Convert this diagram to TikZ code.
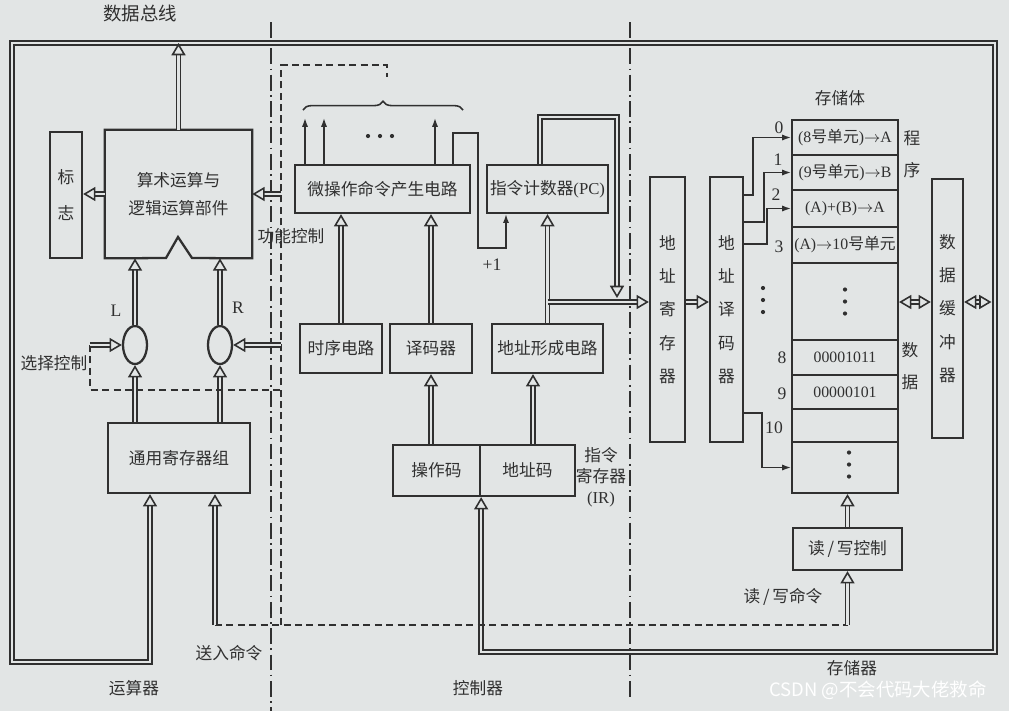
\documentclass[tikz,border=0pt]{standalone}
\usepackage{fontspec}
\setmainfont{Liberation Serif}
\newfontfamily\cjk{Noto Sans CJK SC}
\usepackage{tikz}
\usetikzlibrary{arrows.meta,shapes.geometric,decorations.pathreplacing}
\definecolor{paper}{RGB}{226,229,229}
\definecolor{ink}{RGB}{48,48,48}
\newcommand{\lat}[1]{{\rmfamily #1}}

\begin{document}
\begin{tikzpicture}[x=0.02cm, y=-0.02cm,
  every node/.style={font=\cjk\fontsize{9.5}{11}\selectfont, text=ink, inner sep=0pt},
  blk/.style={draw=ink, line width=1.3pt, fill=paper},
  vblk/.style={blk, align=center, font=\cjk\fontsize{9.5}{19}\selectfont},
  cell/.style={blk, line width=1.2pt, minimum width=2.12cm, font=\cjk\fontsize{9}{11}\selectfont},
  bus/.style={draw=ink, line width=0.9pt, double=paper, double distance=1.4pt},
  busarrow/.style={bus, -{Triangle[open, length=7pt, width=8pt]}},
  busboth/.style={bus, {Triangle[open, length=7pt, width=8pt]}-{Triangle[open, length=7pt, width=8pt]}},
  ctrl/.style={draw=ink, line width=1.3pt, dash pattern=on 4pt off 2.5pt},
  sig/.style={draw=ink, line width=0.8pt, -{Latex[length=5pt, width=3.5pt]}},
  divider/.style={draw=ink, line width=0.7pt, dash pattern=on 9pt off 2.5pt on 1pt off 2.5pt}]
  \fill[paper] (0,0) rectangle (1009,711);
  % section dividers
  \draw[divider] (271,22) -- (271,711);
  \draw[divider] (630,22) -- (630,700);
  % corners of the data bus and control lines
  \coordinate (tl) at (12,43);
  \coordinate (tr) at (995,43);
  \coordinate (bl) at (12,662);
  \coordinate (rin) at (150,662);
  \coordinate (br) at (995,652);
  \coordinate (ctrlv) at (281,625);
  \coordinate (cmdin) at (215,625);
  \coordinate (selin) at (90,345);
  \coordinate (aline) at (0,302);
  \coordinate (pcx) at (540,117);
  \coordinate (pcy) at (617,117);
  \coordinate (pcy2) at (617,298);
  \coordinate (irx) at (533,0);
  \coordinate (incA) at (453,133);
  \coordinate (incB) at (478,248);
  \coordinate (incC) at (506,248);

  % arithmetic unit
  \node[blk, minimum width=0.64cm, minimum height=2.52cm, align=center, font=\cjk\fontsize{9.5}{20}\selectfont] (flag) at (66,195) {标\\志};
  \node[minimum width=2.94cm, minimum height=2.56cm, align=center, font=\cjk\fontsize{9.5}{16}\selectfont] (alu) at (178.5,194) {算术运算与\\逻辑运算部件};
  \draw[blk, fill=none] (alu.north west) -- (alu.north east) -- (alu.south east) -- (192,258) -- (178,237) -- (166,258) -- (alu.south west) -- cycle;
  \node[blk, ellipse, minimum width=0.48cm, minimum height=0.76cm] (selL) at (135,345) {};
  \node[blk, ellipse, minimum width=0.48cm, minimum height=0.76cm] (selR) at (220,345) {};
  \node[blk, minimum width=2.84cm, minimum height=1.4cm] (reg) at (179,458) {通用寄存器组};

  % controller
  \node[blk, minimum width=3.5cm, minimum height=0.96cm] (mop) at (382.5,189) {微操作命令产生电路};
  \node[blk, minimum width=2.42cm, minimum height=0.96cm] (pc) at (547.5,189) {指令计数器\lat{(PC)}};
  \node[blk, minimum width=1.64cm, minimum height=0.98cm] (tim) at (341,348.5) {时序电路};
  \node[blk, minimum width=1.64cm, minimum height=0.98cm] (dec) at (431,348.5) {译码器};
  \node[blk, minimum width=2.22cm, minimum height=0.98cm] (agen) at (547.5,348.5) {地址形成电路};
  \node[blk, minimum width=1.74cm, minimum height=1.02cm] (op) at (436.5,470.5) {操作码};
  \node[blk, minimum width=1.9cm, minimum height=1.02cm] (ad) at (527.5,470.5) {地址码};

  % memory
  \node[vblk, minimum width=0.7cm, minimum height=5.3cm] (mar) at (667.5,309.5) {地\\址\\寄\\存\\器};
  \node[vblk, minimum width=0.66cm, minimum height=5.3cm] (adec) at (726.5,309.5) {地\\址\\译\\码\\器};
  \node[cell, minimum height=0.7cm] (r0) at (845,137.5) {\lat{(8}号单元\lat{)$\to$A}};
  \node[cell, minimum height=0.7cm] (r1) at (845,172.5) {\lat{(9}号单元\lat{)$\to$B}};
  \node[cell, minimum height=0.74cm] (r2) at (845,208.5) {\lat{(A)+(B)$\to$A}};
  \node[cell, minimum height=0.72cm] (r3) at (845,245) {\lat{(A)$\to$10}号单元};
  \node[cell, minimum height=1.54cm] (r4) at (845,301.5) {};
  \node[cell, minimum height=0.7cm] (r8) at (845,357.5) {\lat{00001011}};
  \node[cell, minimum height=0.68cm] (r9) at (845,392) {\lat{00000101}};
  \node[cell, minimum height=0.66cm] (r10) at (845,425.5) {};
  \node[cell, minimum height=1.02cm] (r11) at (845,467.5) {};
  \node[vblk, minimum width=0.62cm, minimum height=5.18cm] (buf) at (947.5,308.5) {数\\据\\缓\\冲\\器};
  \node[blk, minimum width=2.18cm, minimum height=0.84cm] (rw) at (847.5,549) {读\,/\,写控制};
  \foreach \y in {-12,0,12} {
    \fill[ink] (r4.center) ++(0,\y) circle[radius=1.2pt];
    \fill[ink] (r11.center) ++(4,\y-3) circle[radius=1.2pt];
    \fill[ink] (763,300) ++(0,\y) circle[radius=1.2pt];
    \fill[ink] (380,136) ++(\y,0) circle[radius=1.2pt];
  }

  % data bus
  \draw[bus, {Triangle[open, length=7pt, width=8pt]}-{Triangle[open, length=7pt, width=8pt]}] (rin |- reg.south) -- (rin) -- (bl) -- (tl) -- (tr) -- (br) -- (op.south east |- br) -- (op.south east);
  \draw[busarrow] (alu.north) -- (alu.north |- tl);
  \draw[busarrow] (alu.west) -- (flag.east |- alu.west);
  \draw[busarrow] (selL.north) -- (selL.north |- alu.south);
  \draw[busarrow] (selR.north) -- (selR.north |- alu.south);
  \draw[busarrow] (reg.north -| selL) -- (selL.south);
  \draw[busarrow] (reg.north -| selR) -- (selR.south);

  % control lines
  \draw[ctrl] (ctrlv) -- (281,65) -- (387,65) -- (387,77);
  \draw[ctrl] (selin) -- (90,390) -- (ctrlv |- 0,390);
  \draw[ctrl] (cmdin) -- (rw.south |- cmdin);
  \draw[busarrow] (cmdin) -- (cmdin |- reg.south);
  \draw[busarrow] (rw.south |- cmdin) -- (rw.south);
  \draw[busarrow] (selin) -- (selL.west);
  \draw[busarrow] (selR.east -| ctrlv) -- (selR.east);
  \draw[busarrow] (alu.east -| ctrlv) -- (alu.east);

  % inside the controller
  \draw[busarrow] (tim.north) -- (tim.north |- mop.south);
  \draw[busarrow] (dec.north) -- (dec.north |- mop.south);
  \draw[busarrow] (dec.south |- op.north) -- (dec.south);
  \draw[busarrow] (irx |- ad.north) -- (irx |- agen.south);
  \draw[busarrow] (agen.north) -- (agen.north |- pc.south);
  \draw[busarrow] (agen.north |- aline) -- (mar.west |- aline);
  \draw[busarrow] (pc.north -| pcx) -- (pcx) -- (pcy) -- (pcy2);
  \draw[sig] (mop.north -| incA) -- (incA) -| (incB) -- (incC) -- (incC |- pc.south);
  \foreach \x in {305,324,435} \draw[sig] (mop.north -| \x,118) -- (\x,118);
  \draw[draw=ink, line width=0.9pt, decorate, decoration={brace, amplitude=5pt}] (303,110) -- (463,110);

  % inside the memory
  \draw[busarrow] (mar.east |- aline) -- (adec.west |- aline);
  \draw[sig] (adec.east |- 0,195) -- (753,195) |- (r0.west);
  \draw[sig] (adec.east |- 0,222) -- (764,222) |- (r1.west);
  \draw[sig] (adec.east |- 0,244) -- (767,244) |- (r2.west);
  \draw[sig] (adec.east |- 0,413) -- (762,413) |- (r11.west);
  \draw[busboth] (r4.east |- aline) -- (buf.west |- aline);
  \draw[busboth] (buf.east |- aline) -- ([xshift=-2pt]br |- aline);
  \draw[busarrow] (rw.north) -- (rw.north |- r11.south);

  % labels
  \node[font=\cjk\fontsize{10.5}{12}\selectfont] (lbus) at (140,13) {数据总线};
  \node (lfun) at (291,236) {功能控制};
  \node[font=\fontsize{10}{12}\selectfont] (lL) at (116,311) {L};
  \node[font=\fontsize{10}{12}\selectfont] (lR) at (238,308) {R};
  \node (lsel) at (54,363) {选择控制};
  \node (lcmd) at (229,653) {送入命令};
  \node (lalu) at (134,688) {运算器};
  \node (lctl) at (478,688) {控制器};
  \node (lmem) at (852,668) {存储器};
  \node (lrwc) at (783,597) {读\,/\,写命令};
  \node[font=\fontsize{10}{12}\selectfont] (linc) at (492,265) {+1};
  \node[align=center, font=\cjk\fontsize{9.5}{12}\selectfont] (lir) at (601,477) {指令\\寄存器\\\lat{(IR)}};
  \node (lstore) at (840,98) {存储体};
  \node[align=center, font=\cjk\fontsize{9.5}{18}\selectfont] (lprog) at (912,154) {程\\序};
  \node[align=center, font=\cjk\fontsize{9.5}{18}\selectfont] (ldata) at (910,366) {数\\据};
  \foreach \t/\x/\y in {0/779/128, 1/778/160, 2/776/195, 3/779/247, 8/782/358, 9/782/394, 10/774/428}
    \node[font=\fontsize{10}{12}\selectfont] at (\x,\y) {\t};
  \node[text=white, font=\cjk\fontsize{10.5}{12}\selectfont] (mark) at (878,690) {CSDN @不会代码大佬救命};
\end{tikzpicture}
\end{document}
